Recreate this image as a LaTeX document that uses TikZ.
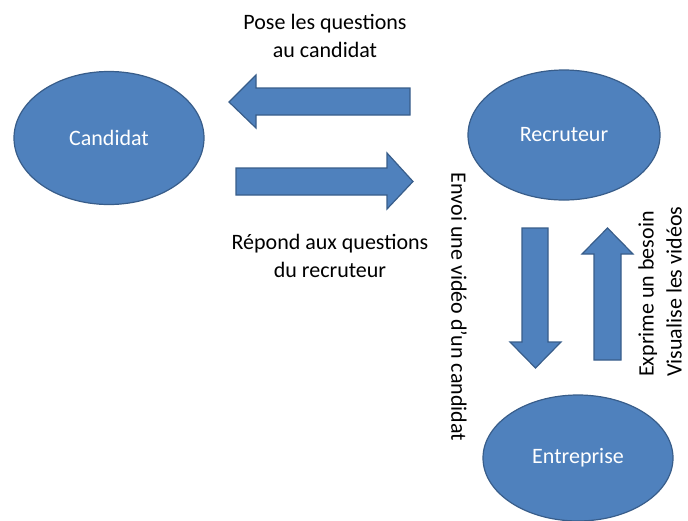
\documentclass[tikz,border=0pt]{standalone}
\usepackage{fontspec}
\setmainfont{Carlito}
\usetikzlibrary{shapes.geometric}
\definecolor{actorfill}{RGB}{79,129,189}
\definecolor{actorline}{RGB}{56,93,138}

\begin{document}
\begin{tikzpicture}[x=1pt,y=1pt,yscale=-1,xscale=1,
  actor/.style={ellipse, draw=actorline, line width=1.2, fill=actorfill, text=white, inner sep=0pt, font=\fontsize{22}{26}\selectfont},
  flow/.style={draw=actorline, line width=1.2, fill=actorfill, line join=miter},
  caption/.style={inner sep=0pt, align=center, font=\fontsize{22}{28}\selectfont}]
\useasboundingbox (0,0) rectangle (688,520);
% Ellipses
\node [actor, minimum width=190, minimum height=133] (cand) at (109,138) {Candidat};
\node [actor, minimum width=192, minimum height=130] (recr) at (564,135) {Recruteur};
\node [actor, minimum width=190, minimum height=126] (entr) at (578,458) {Entreprise};
%Block Arrows
\draw [flow] (229,102) -- (256,75) -- (256,88) -- (410,88) -- (410,115) -- (256,115) -- (256,128) -- cycle ;
\draw [flow] (236,168) -- (387,168) -- (387,153) -- (413,181.5) -- (387,209) -- (387,195) -- (236,195) -- cycle ;
\draw [flow] (522,228) -- (548,228) -- (548,342) -- (561,342) -- (535.5,368) -- (510,342) -- (522,342) -- cycle ;
\draw [flow] (607.5,228) -- (633,254) -- (621,254) -- (621,360) -- (594,360) -- (594,254) -- (582,254) -- cycle ;

% Text Node
\node [caption] (ask) at (325,36) {Pose les questions\\au candidat};
% Text Node
\node [caption] (answer) at (330,256) {Répond aux questions\\du recruteur};
% Text Node
\node [caption, rotate=-90] (send) at (459,307) {Envoi une vidéo d’un candidat};
% Text Node
\node [caption, rotate=90, anchor=west, align=left] (need) at (660,377) {Exprime un besoin\\Visualise les vidéos};
\end{tikzpicture}
\end{document}
